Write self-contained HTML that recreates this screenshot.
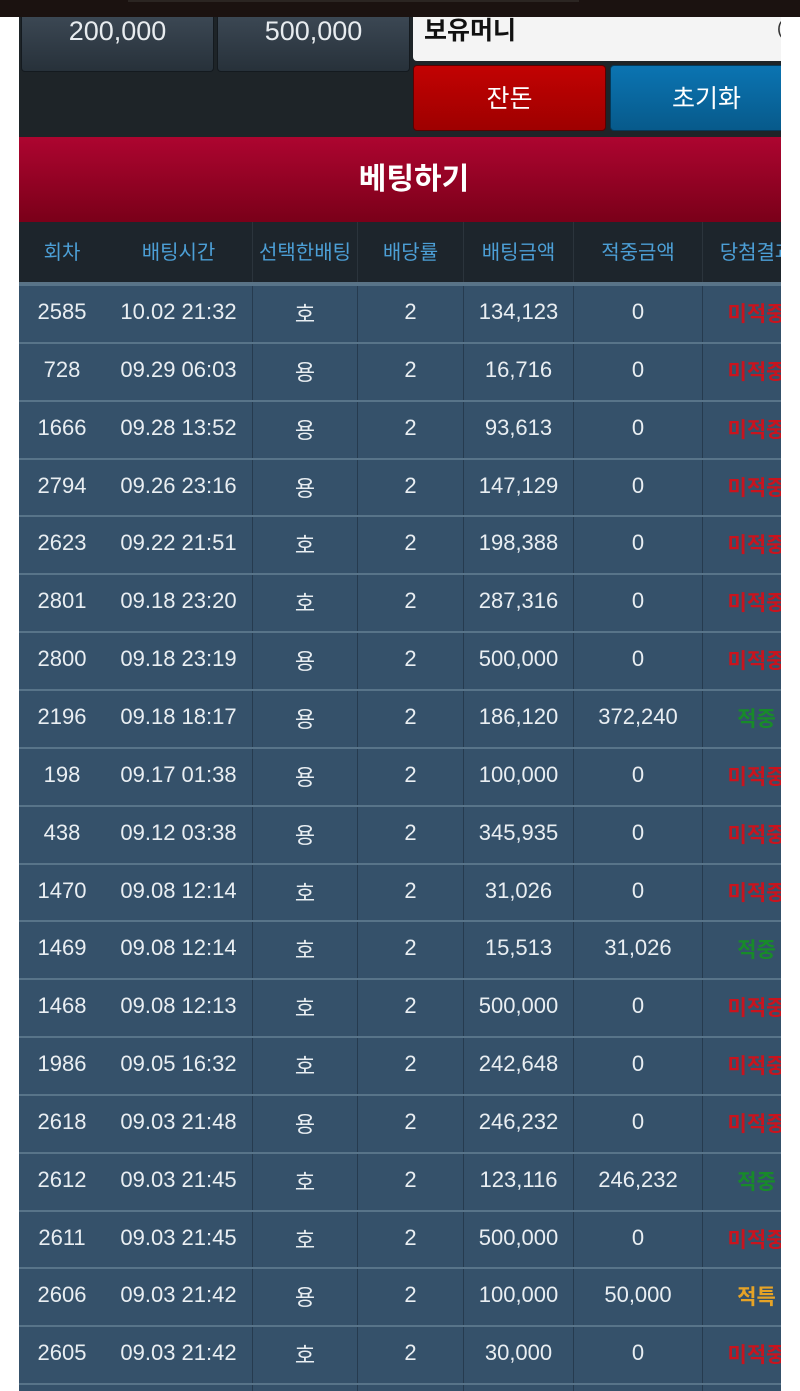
<!DOCTYPE html>
<html><head><meta charset="utf-8">
<style>
*{margin:0;padding:0;box-sizing:border-box}
html,body{width:800px;height:1391px;overflow:hidden;background:#fff;font-family:"Liberation Sans","Noto Sans CJK KR",sans-serif}
.abs{position:absolute}
#topbar{left:0;top:0;width:800px;height:17px;background:#1b1210}
#topline{left:128px;top:0;width:451px;height:2px;background:#2b2522}
#wrap{left:19px;top:17px;width:762px;height:1374px;overflow:hidden}
#panel{left:0;top:0;width:762px;height:120px;background:#1e2428}
.gbtn{top:0;height:55px;background:linear-gradient(#3b4753,#27313a);border:1px solid #141a1f;border-top:none;border-radius:0 0 4px 4px;color:#e8ecef;font-size:27px;text-align:center;line-height:28px}
#inp{left:394px;top:0;width:380px;height:44px;background:#f4f4f4;border-radius:0 0 0 4px;font-weight:bold;font-size:25px;color:#111;padding-left:11px;padding-top:1px;line-height:26px;overflow:hidden}
.btn{top:48px;height:66px;border-radius:4px;color:#fff;font-size:25px;text-align:center;line-height:66px}
#bet{left:0;top:120px;width:790px;height:85px;background:linear-gradient(#ad0530,#7a0019);color:#fff;font-weight:bold;font-size:30px;text-align:center;line-height:85px}
#clip{left:0;top:205px;width:762px;height:1169px;overflow:hidden;background:#35506a}
#head{left:0;top:0;width:800px;height:62px;background:#1d252c;border-bottom:2px solid #5a7386}
.row{position:absolute;left:0;width:800px;height:58px;border-top:2px solid #587489;background:#35516a}
.c{position:absolute;top:0;height:100%;text-align:center;white-space:nowrap}
.h .c{color:#4c9fd6;font-size:20px;line-height:62px}
.row .c{color:#e9eef2;font-size:22px;line-height:52px}
.row .k{font-size:22px;line-height:58px}
.d{border-left:1px solid #263b4f}
.h .d{border-left:1px solid #2b343c}
.c1{left:0;width:86px}
.c2{left:86px;width:147px}
.c3{left:233px;width:105px}
.c4{left:338px;width:106px}
.c5{left:444px;width:110px}
.c6{left:554px;width:129px}
.c7{left:683px;width:108px}
.r{color:#c8141e!important;font-weight:bold;font-size:21px!important;line-height:58px!important}
.g{color:#188a2a!important;font-weight:bold;font-size:21px!important;line-height:58px!important}
.o{color:#e6a326!important;font-weight:bold;font-size:21px!important;line-height:58px!important}
</style></head><body>
<div id="topbar" class="abs"></div>
<div id="topline" class="abs"></div>
<div id="wrap" class="abs">
<div id="panel" class="abs"></div>
<div class="abs gbtn" style="left:2px;width:193px">200,000</div>
<div class="abs gbtn" style="left:198px;width:193px">500,000</div>
<div id="inp" class="abs">보유머니</div>
<div class="abs" style="left:758px;top:2px;width:6px;height:20px;color:#333;font-size:18px;line-height:18px">(</div>
<div class="abs btn" style="left:394px;width:193px;background:linear-gradient(#c20202,#9e0000);border:1px solid #5a0000">잔돈</div>
<div class="abs btn" style="left:591px;width:193px;background:linear-gradient(#0b74b2,#075a8b);border:1px solid #053a5a">초기화</div>
<div id="bet" class="abs">베팅하기</div>
<div id="clip" class="abs">
<div id="head" class="abs h">
<div class="c c1">회차</div><div class="c c2">배팅시간</div><div class="c c3 d">선택한배팅</div><div class="c c4 d">배당률</div><div class="c c5 d">배팅금액</div><div class="c c6 d">적중금액</div><div class="c c7 d">당첨결과</div>
</div>
<div class="row" style="top:62px"><div class="c c1">2585</div><div class="c c2">10.02 21:32</div><div class="c c3 d k">호</div><div class="c c4 d">2</div><div class="c c5 d">134,123</div><div class="c c6 d">0</div><div class="c c7 d r">미적중</div></div>
<div class="row" style="top:119.85px"><div class="c c1">728</div><div class="c c2">09.29 06:03</div><div class="c c3 d k">용</div><div class="c c4 d">2</div><div class="c c5 d">16,716</div><div class="c c6 d">0</div><div class="c c7 d r">미적중</div></div>
<div class="row" style="top:177.7px"><div class="c c1">1666</div><div class="c c2">09.28 13:52</div><div class="c c3 d k">용</div><div class="c c4 d">2</div><div class="c c5 d">93,613</div><div class="c c6 d">0</div><div class="c c7 d r">미적중</div></div>
<div class="row" style="top:235.55px"><div class="c c1">2794</div><div class="c c2">09.26 23:16</div><div class="c c3 d k">용</div><div class="c c4 d">2</div><div class="c c5 d">147,129</div><div class="c c6 d">0</div><div class="c c7 d r">미적중</div></div>
<div class="row" style="top:293.4px"><div class="c c1">2623</div><div class="c c2">09.22 21:51</div><div class="c c3 d k">호</div><div class="c c4 d">2</div><div class="c c5 d">198,388</div><div class="c c6 d">0</div><div class="c c7 d r">미적중</div></div>
<div class="row" style="top:351.25px"><div class="c c1">2801</div><div class="c c2">09.18 23:20</div><div class="c c3 d k">호</div><div class="c c4 d">2</div><div class="c c5 d">287,316</div><div class="c c6 d">0</div><div class="c c7 d r">미적중</div></div>
<div class="row" style="top:409.1px"><div class="c c1">2800</div><div class="c c2">09.18 23:19</div><div class="c c3 d k">용</div><div class="c c4 d">2</div><div class="c c5 d">500,000</div><div class="c c6 d">0</div><div class="c c7 d r">미적중</div></div>
<div class="row" style="top:466.95px"><div class="c c1">2196</div><div class="c c2">09.18 18:17</div><div class="c c3 d k">용</div><div class="c c4 d">2</div><div class="c c5 d">186,120</div><div class="c c6 d">372,240</div><div class="c c7 d g">적중</div></div>
<div class="row" style="top:524.8px"><div class="c c1">198</div><div class="c c2">09.17 01:38</div><div class="c c3 d k">용</div><div class="c c4 d">2</div><div class="c c5 d">100,000</div><div class="c c6 d">0</div><div class="c c7 d r">미적중</div></div>
<div class="row" style="top:582.65px"><div class="c c1">438</div><div class="c c2">09.12 03:38</div><div class="c c3 d k">용</div><div class="c c4 d">2</div><div class="c c5 d">345,935</div><div class="c c6 d">0</div><div class="c c7 d r">미적중</div></div>
<div class="row" style="top:640.5px"><div class="c c1">1470</div><div class="c c2">09.08 12:14</div><div class="c c3 d k">호</div><div class="c c4 d">2</div><div class="c c5 d">31,026</div><div class="c c6 d">0</div><div class="c c7 d r">미적중</div></div>
<div class="row" style="top:698.35px"><div class="c c1">1469</div><div class="c c2">09.08 12:14</div><div class="c c3 d k">호</div><div class="c c4 d">2</div><div class="c c5 d">15,513</div><div class="c c6 d">31,026</div><div class="c c7 d g">적중</div></div>
<div class="row" style="top:756.2px"><div class="c c1">1468</div><div class="c c2">09.08 12:13</div><div class="c c3 d k">호</div><div class="c c4 d">2</div><div class="c c5 d">500,000</div><div class="c c6 d">0</div><div class="c c7 d r">미적중</div></div>
<div class="row" style="top:814.05px"><div class="c c1">1986</div><div class="c c2">09.05 16:32</div><div class="c c3 d k">호</div><div class="c c4 d">2</div><div class="c c5 d">242,648</div><div class="c c6 d">0</div><div class="c c7 d r">미적중</div></div>
<div class="row" style="top:871.9px"><div class="c c1">2618</div><div class="c c2">09.03 21:48</div><div class="c c3 d k">용</div><div class="c c4 d">2</div><div class="c c5 d">246,232</div><div class="c c6 d">0</div><div class="c c7 d r">미적중</div></div>
<div class="row" style="top:929.75px"><div class="c c1">2612</div><div class="c c2">09.03 21:45</div><div class="c c3 d k">호</div><div class="c c4 d">2</div><div class="c c5 d">123,116</div><div class="c c6 d">246,232</div><div class="c c7 d g">적중</div></div>
<div class="row" style="top:987.6px"><div class="c c1">2611</div><div class="c c2">09.03 21:45</div><div class="c c3 d k">호</div><div class="c c4 d">2</div><div class="c c5 d">500,000</div><div class="c c6 d">0</div><div class="c c7 d r">미적중</div></div>
<div class="row" style="top:1045.45px"><div class="c c1">2606</div><div class="c c2">09.03 21:42</div><div class="c c3 d k">용</div><div class="c c4 d">2</div><div class="c c5 d">100,000</div><div class="c c6 d">50,000</div><div class="c c7 d o">적특</div></div>
<div class="row" style="top:1103.3px"><div class="c c1">2605</div><div class="c c2">09.03 21:42</div><div class="c c3 d k">호</div><div class="c c4 d">2</div><div class="c c5 d">30,000</div><div class="c c6 d">0</div><div class="c c7 d r">미적중</div></div>
<div class="row" style="top:1161.15px"><div class="c c1"></div><div class="c c2"></div><div class="c c3 d k"></div><div class="c c4 d"></div><div class="c c5 d"></div><div class="c c6 d"></div><div class="c c7 d"></div></div>
</div>
</div>
</body></html>
